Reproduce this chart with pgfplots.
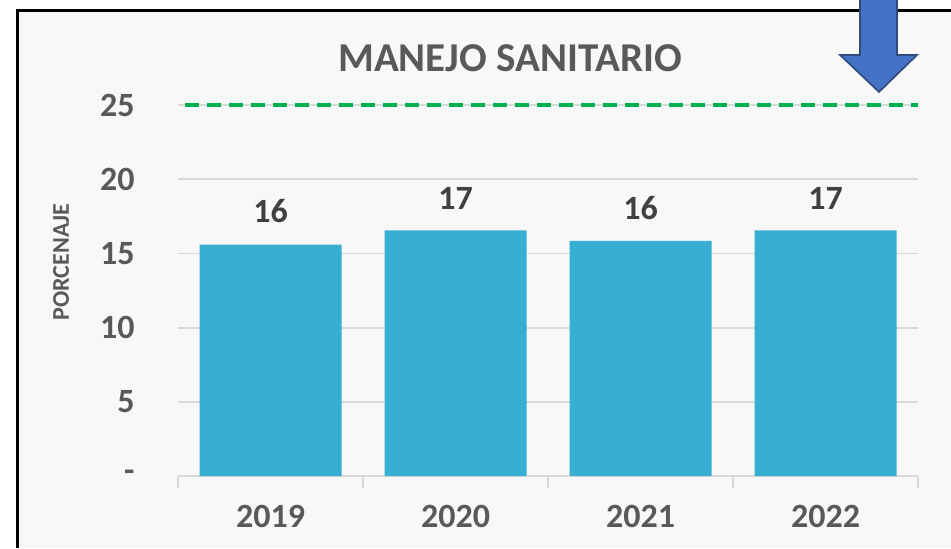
\documentclass[border=0pt]{standalone}
\usepackage{pgfplots}
\pgfplotsset{compat=1.18}
\usepackage{fontspec}
\setmainfont{Carlito}
\definecolor{barblue}{HTML}{38AED2}
\definecolor{bggray}{HTML}{F8F8F8}
\definecolor{txtgray}{HTML}{595959}
\definecolor{lblgray}{HTML}{404040}
\definecolor{gridgray}{HTML}{D9D9D9}
\definecolor{refgreen}{HTML}{00B050}
\definecolor{arrowblue}{HTML}{4472C4}
\definecolor{arrowedge}{HTML}{2F4B7C}
\begin{document}
\begin{tikzpicture}[x=1pt,y=1pt]
\path[use as bounding box] (0,0) rectangle (475.5,274);
\fill[white] (0,0) rectangle (475.5,274);
\fill[bggray] (8.5,0) rectangle (475.5,269);
\draw[black, line width=1.5pt] (8.5,0) -- (8.5,269) -- (475.5,269);
\begin{axis}[
  at={(89pt,36pt)}, anchor=south west,
  scale only axis, width=370pt, height=185.5pt,
  xmin=-0.5, xmax=3.5, ymin=0, ymax=25,
  clip=false,
  axis line style={draw=none},
  /pgf/number format/assume math mode=true,
  xtick={0,1,2,3},
  xticklabels={2019,2020,2021,2022},
  ytick={0,5,10,15,20,25},
  yticklabels={-,5,10,15,20,25},
  xtick pos=bottom, ytick pos=left,
  xtick style={draw=none}, ytick style={draw=none},
  extra x ticks={-0.5,0.5,1.5,2.5,3.5},
  extra x tick labels={},
  extra x tick style={xtick style={draw=gridgray, line width=0.9pt}, major tick length=6pt, tick align=outside},
  ymajorgrids,
  major grid style={draw=gridgray, line width=0.9pt},
  yticklabel style={font=\fontsize{17}{20}\selectfont\bfseries, text=txtgray, inner sep=0pt, anchor=east, xshift=-21.5pt},
  xticklabel style={font=\fontsize{17}{20}\selectfont\bfseries, text=txtgray, inner sep=0pt, anchor=north, yshift=-14.5pt},
]
\addplot[ybar, bar width=71pt, bar shift=0pt, fill=barblue, draw=none,
  nodes near coords={\pgfmathprintnumber[fixed,precision=0]{\pgfplotspointmeta}},
  every node near coord/.append style={font=\fontsize{17}{20}\selectfont\bfseries, text=lblgray, inner sep=0pt, anchor=south, yshift=10.5pt}]
  coordinates {(0,15.6) (1,16.55) (2,15.85) (3,16.55)};
\addplot[refgreen, line width=2pt, dash pattern=on 7pt off 4pt] coordinates {(-0.46,25) (3.5,25)};
\end{axis}
\node[font=\fontsize{20.5}{24}\selectfont\bfseries, text=txtgray] at (255,245) {MANEJO SANITARIO};
\node[font=\fontsize{12}{14}\selectfont\bfseries, text=txtgray, rotate=90] at (30.5,143) {PORCENAJE};
\draw[fill=arrowblue, draw=arrowedge, line width=0.8pt]
  (430,275) -- (430,246.5) -- (420,246.5) -- (439.5,228) -- (458.5,246.5) -- (448.5,246.5) -- (448.5,275);
\end{tikzpicture}
\end{document}
